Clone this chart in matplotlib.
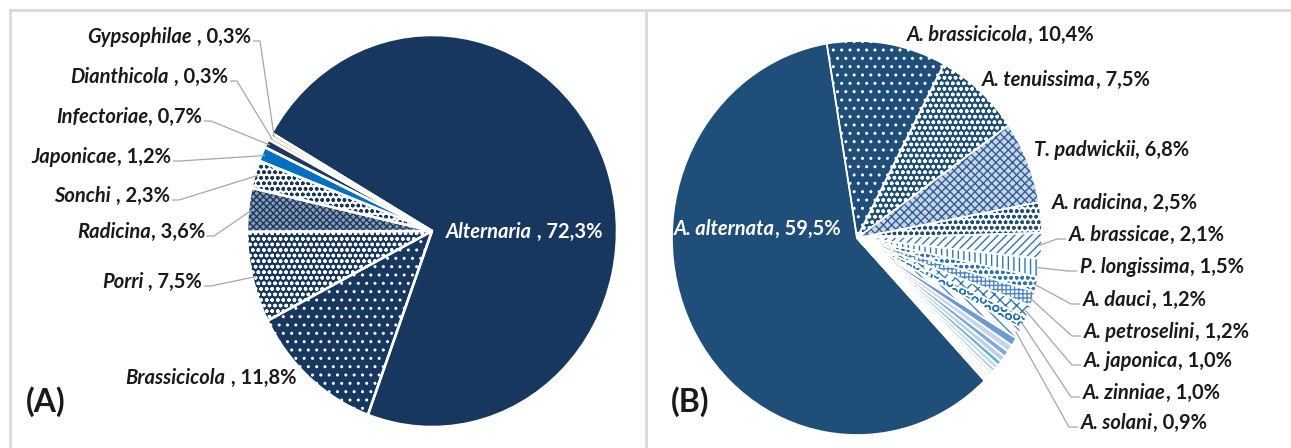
import matplotlib
matplotlib.use("Agg")
import matplotlib.pyplot as plt
from matplotlib.lines import Line2D
import numpy as np

# ---------------- data ----------------
namesA = ["Alternaria", "Brassicicola", "Porri", "Radicina", "Sonchi",
          "Japonicae", "Infectoriae", "Dianthicola", "Gypsophilae"]
valuesA = [72.3, 11.8, 7.5, 3.6, 2.3, 1.2, 0.7, 0.3, 0.3]
sepA = [" , ", " , ", " , ", ", ", " , ", ", ", ", ", " , ", " , "]

namesB = ["A. alternata", "A. brassicicola", "A. tenuissima", "T. padwickii",
          "A. radicina", "A. brassicae", "P. longissima", "A. dauci",
          "A. petroselini", "A. japonica", "A. zinniae", "A. solani"]
valuesB = [59.5, 10.4, 7.5, 6.8, 2.5, 2.1, 1.5, 1.2, 1.2, 1.0, 1.0, 0.9]
# remaining small, unlabeled species in panel B (estimated)
othersB = [0.7, 0.6, 0.5, 0.5, 0.4, 0.4, 0.3, 0.3, 0.2, 0.2, 0.2, 0.1]

# ---------------- style ----------------
W, H = 1291, 448
NAVY_A = "#17375E"
NAVY_B = "#1F4E79"
TXT = "#1a1a1a"
LEAD = "#A6A6A6"
FONT = "Lato"

# (facecolor, hatchcolor, hatch)
styleA = [
    (NAVY_A, NAVY_A, None),
    (NAVY_A, "white", ".."),
    (NAVY_A, "white", "ooo"),
    ("#8C9BB3", NAVY_A, "xxxxx"),
    ("white", NAVY_A, "ooo"),
    ("#0070C0", "#0070C0", None),
    ("#1F3864", "#1F3864", None),
    ("#D99694", "#D99694", None),
    ("#A9C47F", "#A9C47F", None),
]
styleB = [
    (NAVY_B, NAVY_B, None),
    (NAVY_B, "white", ".."),
    (NAVY_B, "white", "ooo"),
    ("#C9D6E8", "#2F5F97", "xxxx"),
    ("white", NAVY_B, "ooo"),
    ("white", "#2E75B6", "////"),
    ("white", "#2E75B6", "|||"),
    ("white", "#2E75B6", "ooo"),
    ("white", "#4F86C6", "++++"),
    ("white", "#2E75B6", "xxx"),
    ("white", "#2E75B6", "OO"),
    ("white", "#4F86C6", "\\\\\\"),
]
othersColors = ["#6E9AD2", "#C5D7EE", "#7FA6DB", "#BCD0EA", "#5BB7C1", "#C9DAF0",
                "#A9C2E6", "#E2ECF7", "#F4D6CF", "#EAF0F8", "#F9E0C8", "#E6EEF8"]

# label layout (pixel coords from top-left): anchor x, y
labA_pos = [(602, 232, "right"), (296, 378, "right"), (202, 282, "right"),
            (205, 232, "right"), (170, 196, "right"), (171, 157, "right"),
            (202, 117, "right"), (228, 77, "right"), (251, 37, "right")]
leaderA = [False, False, True, True, True, True, True, True, True]

labB_pos = [(674, 229, "left"), (907, 35, "left"), (982, 80, "left"),
            (1034, 150, "left"), (1052, 203, "left"), (1069, 235, "left"),
            (1080, 267, "left"), (1083, 300, "left"), (1084, 332, "left"),
            (1084, 361, "left"), (1083, 393, "left"), (1081, 423, "left")]
leaderB = [False, False, False, False, False, True, True, True, True, True, True, True]

FS = 14.5

fig = plt.figure(figsize=(W / 100, H / 100), dpi=100)
fig.patch.set_facecolor("white")


def px_axes(cx, cy, rx, ry):
    return fig.add_axes([(cx - rx) / W, 1 - (cy + ry) / H, 2 * rx / W, 2 * ry / H])


def fx(x, y):
    return (x / W, 1 - y / H)


def draw_pie(ax, values, styles, startangle, seplw):
    wedges, _ = ax.pie(values, startangle=startangle, counterclock=False,
                       wedgeprops=dict(linewidth=0))
    for w, (fc, hc, hatch) in zip(wedges, styles):
        w.set_facecolor(fc)
        w.set_edgecolor(hc)
        w.set_linewidth(0)
        if hatch:
            w.set_hatch(hatch)
    ax.pie(values, startangle=startangle, counterclock=False,
           wedgeprops=dict(fill=False, edgecolor="white", linewidth=seplw))
    ax.set_aspect("auto")
    ax.set_xlim(-1, 1)
    ax.set_ylim(-1, 1)
    ax.axis("off")
    return wedges


def fmt(v):
    return f"{v:.1f}".replace(".", ",") + "%"


# panel frames
for (x0, y0, x1, y1) in [(10, 10, W, 10), (10, 10, 10, H), (646, 10, 646, H)]:
    fig.add_artist(Line2D([x0 / W, x1 / W], [1 - y0 / H, 1 - y1 / H],
                          transform=fig.transFigure, color="#D9D9D9", lw=2))

axA = px_axes(432, 231, 185, 196)
axB = px_axes(857, 238, 185, 197)

wA = draw_pie(axA, valuesA, styleA, 150, 1.8)
allB = valuesB + othersB
stylesAllB = styleB + [(c, c, None) for c in othersColors]
wB = draw_pie(axB, allB, stylesAllB, -46.4, 1.2)

# overlay axes for all text
axT = fig.add_axes([0, 0, 1, 1], zorder=10)
axT.set_xlim(0, W)
axT.set_ylim(H, 0)
axT.axis("off")
axT.patch.set_alpha(0)


def label(name, sep, val, x, y, ha, color):
    kw = dict(fontsize=FS, fontweight="bold", color=color, family=FONT)
    if ha == "right":
        t2 = axT.text(x, y, sep + fmt(val), ha="right", va="center", **kw)
        axT.annotate(name, xy=(0, 0), xycoords=t2, ha="right", va="bottom",
                     style="italic", annotation_clip=False, **kw)
    else:
        t1 = axT.text(x, y, name, ha="left", va="center", style="italic", **kw)
        axT.annotate(sep + fmt(val), xy=(1, 0), xycoords=t1, ha="left",
                     va="bottom", annotation_clip=False, **kw)


def leader(ax, wedge, x, y, side):
    th = np.deg2rad((wedge.theta1 + wedge.theta2) / 2)
    dx, dy = ax.transData.transform((0.98 * np.cos(th), 0.98 * np.sin(th)))
    tx, ty = dx, H - dy
    if side == "right":
        xs = [x + 2, x + 9]
    else:
        xs = [x - 3, x - 12]
    ys = [y + 4, y + 4]
    axT.plot([xs[0], xs[1], tx], [ys[0], ys[1], ty], color=LEAD, lw=0.9,
             solid_capstyle="butt")


for i, n in enumerate(namesA):
    x, y, ha = labA_pos[i]
    col = "white" if i == 0 else TXT
    label(n, sepA[i], valuesA[i], x, y, ha, col)
    if leaderA[i]:
        leader(axA, wA[i], x, y, "right")

for i, n in enumerate(namesB):
    x, y, ha = labB_pos[i]
    col = "white" if i == 0 else TXT
    label(n, ", ", valuesB[i], x, y, ha, col)
    if leaderB[i]:
        leader(axB, wB[i], x, y, "left")

axT.text(26, 402, "(A)", fontsize=23, fontweight="bold", family=FONT,
         color=TXT, ha="left", va="center")
axT.text(671, 402, "(B)", fontsize=23, fontweight="bold", family=FONT,
         color=TXT, ha="left", va="center")

fig.savefig("out.png", dpi=100, facecolor="white")
